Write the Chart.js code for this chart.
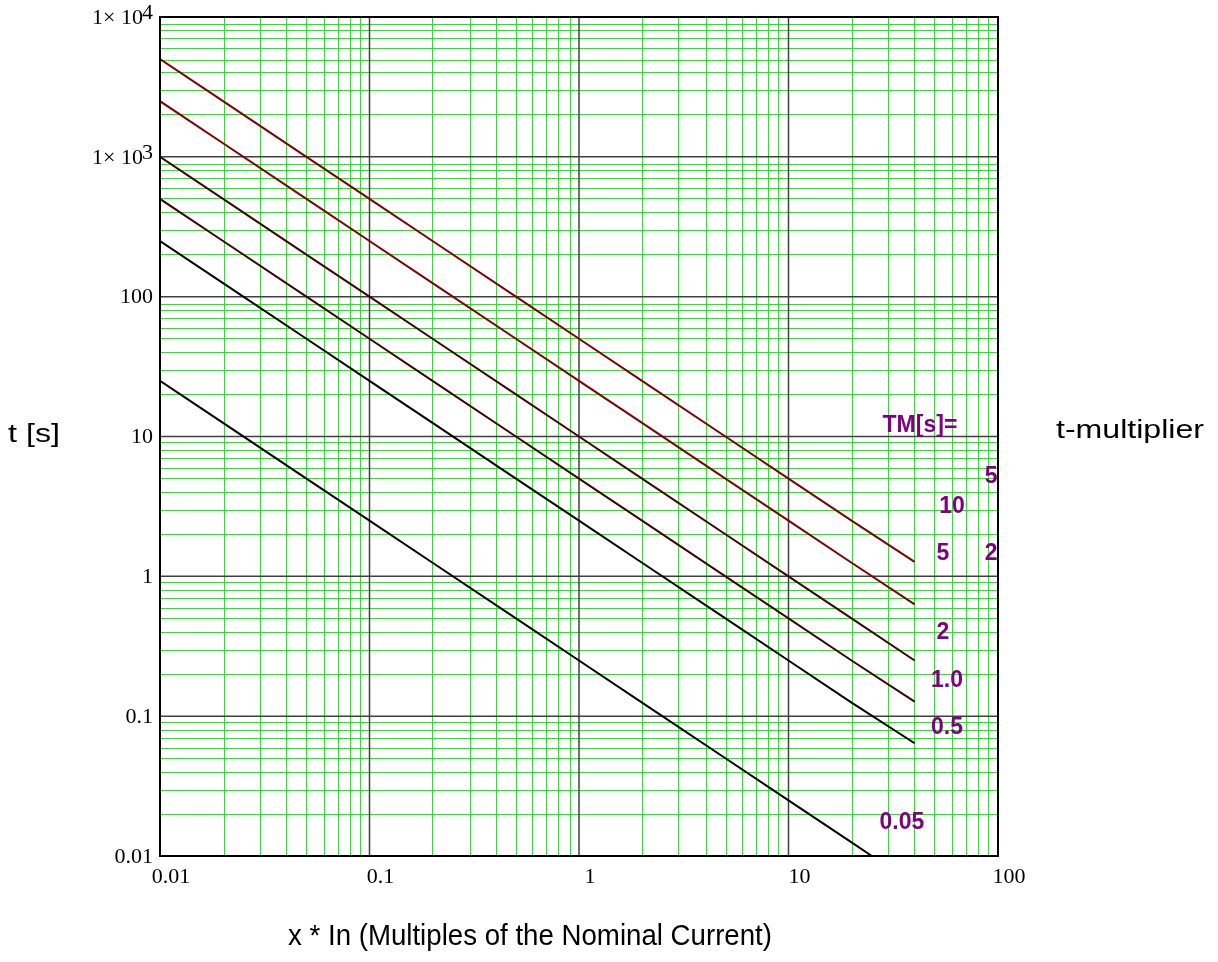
<!DOCTYPE html>
<html>
<head>
<meta charset="utf-8">
<script src="https://cdn.jsdelivr.net/npm/chart.js@4.4.1/dist/chart.umd.min.js"></script>
<style>
  html, body { margin: 0; padding: 0; background: #fff; }
</style>
</head>
<body>
<canvas id="tripChart" width="1218" height="962"></canvas>
<script>
// x * In, multiples of the nominal current
const currentX = [0.01, 0.02, 0.05, 0.1, 0.2, 0.5, 1, 2, 5, 10, 20, 40];
const currentX005 = [0.01, 0.02, 0.05, 0.1, 0.2, 0.5, 1, 2, 5, 10, 20, 25];

// tripping time t [s] per time multiplier
const tm10 = [5000, 2500, 1000, 500, 250, 100, 50, 25, 10, 5, 2.5, 1.27];
const tm5 = [2500, 1250, 500, 250, 125, 50, 25, 12.5, 5, 2.5, 1.25, 0.63];
const tm2 = [1000, 500, 200, 100, 50, 20, 10, 5, 2, 1, 0.5, 0.25];
const tm1 = [500, 250, 100, 50, 25, 10, 5, 2.5, 1, 0.5, 0.25, 0.127];
const tm05 = [250, 125, 50, 25, 12.5, 5, 2.5, 1.25, 0.5, 0.25, 0.125, 0.064];
const tm005 = [25, 12.5, 5, 2.5, 1.25, 0.5, 0.25, 0.125, 0.05, 0.025, 0.0125, 0.01];

// tick labels (decades)
const xTickValues = [0.01, 0.1, 1, 10, 100];
const xTickLabels = ['0.01', '0.1', '1', '10', '100'];
const yTickValues = [0.01, 0.1, 1, 10, 100, 1000, 10000];
const yTickLabels = ['0.01', '0.1', '1', '10', '100', '1\u00d7 10|3', '1\u00d7 10|4'];

// TM text marks placed in data coordinates
const tmNotes = [
  { text: 'TM[s]=', x: 42.4, y: 11.9 },
  { text: '10', x: 60.3, y: 3.13 },
  { text: '5', x: 54.6, y: 1.45 },
  { text: '2', x: 54.6, y: 0.394 },
  { text: '1.0', x: 57.1, y: 0.179 },
  { text: '0.5', x: 57.1, y: 0.0824 },
  { text: '0.05', x: 34.8, y: 0.0172 },
  { text: '5', x: 92.7, y: 5.2 },
  { text: '2', x: 92.7, y: 1.45 }
];

const SANS = 'Arial, "Liberation Sans", sans-serif';
const SERIF = '"Liberation Serif", "Times New Roman", serif';

// 1..9 x 10^e values between two decades
function logGrid(eMin, eMax) {
  const vals = [];
  for (let e = eMin; e < eMax; e++) {
    for (let m = 1; m <= 9; m++) vals.push({ v: m * Math.pow(10, e), major: m === 1 });
  }
  vals.push({ v: Math.pow(10, eMax), major: true });
  return vals;
}

const toPoints = (xs, ys) => xs.map((x, i) => ({ x: x, y: ys[i] }));

function serie(data, xs, color) {
  return {
    data: toPoints(xs, data),
    borderColor: color,
    borderWidth: 2,
    pointRadius: 0,
    fill: false,
    tension: 0
  };
}

// text stretched to fill a given width
function stretchText(ctx, text, left, right, baseline) {
  const w = ctx.measureText(text).width;
  ctx.save();
  ctx.translate(left, baseline);
  ctx.scale((right - left) / w, 1);
  ctx.textAlign = 'left';
  ctx.textBaseline = 'alphabetic';
  ctx.fillText(text, 0, 0);
  ctx.restore();
}

// thin green lines sit on even pixel rows/columns so they keep their colour
const snapEven = p => 2 * Math.round(p / 2) + 0.5;

const gridPlugin = {
  id: 'logGrid',
  beforeDatasetsDraw(chart) {
    const ctx = chart.ctx;
    const a = chart.chartArea;
    const sx = chart.scales.x, sy = chart.scales.y;
    const xs = logGrid(-2, 2), ys = logGrid(-2, 4);
    ctx.save();
    ctx.lineWidth = 1;
    ctx.strokeStyle = '#00ff00';
    ctx.beginPath();
    xs.filter(g => !g.major).forEach(g => {
      const p = snapEven(sx.getPixelForValue(g.v));
      ctx.moveTo(p, a.top); ctx.lineTo(p, a.bottom);
    });
    ys.filter(g => !g.major).forEach(g => {
      const p = snapEven(sy.getPixelForValue(g.v));
      ctx.moveTo(a.left, p); ctx.lineTo(a.right, p);
    });
    ctx.stroke();
    ctx.lineWidth = 1.5;
    ctx.strokeStyle = '#404040';
    ctx.beginPath();
    xs.filter(g => g.major).forEach(g => {
      const p = sx.getPixelForValue(g.v);
      ctx.moveTo(p, a.top); ctx.lineTo(p, a.bottom);
    });
    ys.filter(g => g.major).forEach(g => {
      const p = sy.getPixelForValue(g.v);
      ctx.moveTo(a.left, p); ctx.lineTo(a.right, p);
    });
    ctx.stroke();
    ctx.restore();
  },
  afterDraw(chart) {
    const ctx = chart.ctx;
    const a = chart.chartArea;
    const sx = chart.scales.x, sy = chart.scales.y;
    ctx.save();
    // frame
    ctx.strokeStyle = '#000';
    ctx.lineWidth = 2;
    ctx.strokeRect(a.left, a.top, a.right - a.left, a.bottom - a.top);

    // y tick labels, exponent written raised after the "10"
    ctx.fillStyle = '#000';
    ctx.font = '22px ' + SERIF;
    ctx.textBaseline = 'middle';
    ctx.textAlign = 'right';
    yTickValues.forEach((v, i) => {
      const py = sy.getPixelForValue(v);
      const parts = yTickLabels[i].split('|');
      if (parts.length === 2) {
        ctx.fillText(parts[1], 153, py - 4);
        const ew = ctx.measureText(parts[1]).width;
        ctx.fillText(parts[0], 153 - ew + 1, py + 1);
      } else {
        ctx.fillText(parts[0], 153, py + 1);
      }
    });

    // TM notes
    ctx.fillStyle = '#800080';
    ctx.font = 'bold 23px ' + SANS;
    ctx.textAlign = 'center';
    ctx.textBaseline = 'middle';
    tmNotes.forEach(n => {
      ctx.fillText(n.text, sx.getPixelForValue(n.x), sy.getPixelForValue(n.y));
    });

    // axis titles
    ctx.fillStyle = '#000';
    ctx.font = '26px ' + SANS;
    stretchText(ctx, 't [s]', 8, 60, 442);
    stretchText(ctx, 't-multiplier', 1056, 1204, 438);
    ctx.font = '29px ' + SANS;
    stretchText(ctx, 'x * In (Multiples of the Nominal Current)', 288, 772, 945);
    ctx.restore();
  }
};

new Chart(document.getElementById('tripChart'), {
  type: 'line',
  data: {
    datasets: [
      serie(tm10, currentX, '#800000'),
      serie(tm5, currentX, '#800000'),
      serie(tm2, currentX, '#420000'),
      serie(tm1, currentX, '#420000'),
      serie(tm05, currentX, '#000000'),
      serie(tm005, currentX005, '#000000')
    ]
  },
  options: {
    responsive: false,
    animation: false,
    layout: { padding: { left: 0, top: 17, right: 220, bottom: 0 } },
    plugins: { legend: { display: false }, tooltip: { enabled: false } },
    scales: {
      x: {
        type: 'logarithmic',
        min: 0.01,
        max: 100,
        afterBuildTicks: s => { s.ticks = xTickValues.map(v => ({ value: v })); },
        afterFit: s => { s.height = 106; },
        grid: { display: false, drawTicks: false },
        border: { display: false },
        ticks: {
          autoSkip: false,
          maxRotation: 0,
          labelOffset: 11,
          padding: 8,
          color: '#000',
          font: { family: SERIF, size: 22 },
          callback: (v, i) => xTickLabels[i]
        }
      },
      y: {
        type: 'logarithmic',
        min: 0.01,
        max: 10000,
        afterBuildTicks: s => { s.ticks = yTickValues.map(v => ({ value: v })); },
        afterFit: s => { s.width = 160; },
        grid: { display: false, drawTicks: false },
        border: { display: false },
        ticks: { display: false }
      }
    }
  },
  plugins: [gridPlugin]
});
</script>
</body>
</html>
